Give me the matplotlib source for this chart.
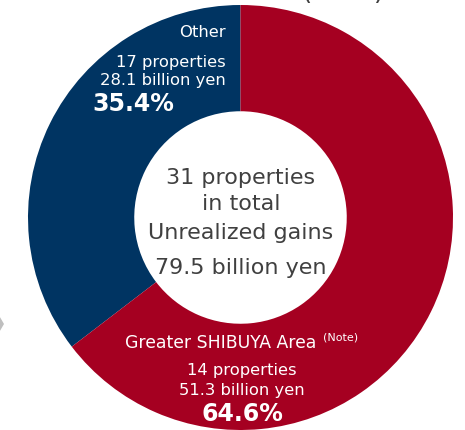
import matplotlib
matplotlib.use("Agg")
from matplotlib import pyplot as plt
from matplotlib.patches import Polygon

# data
labels = ['Other', 'Greater SHIBUYA Area']
properties = [17, 14]
gains = [28.1, 51.3]      # billion yen
shares = [35.4, 64.6]     # %
total_props = 31
total_gains = 79.5

colors = ['#003462', '#A50021']

W, H = 465, 431
fig = plt.figure(figsize=(W / 100, H / 100), dpi=100)
ax = fig.add_axes([0, 0, 1, 1])

# center / radius in pixel coords (y measured from bottom)
cx, cy = 240.5, H - 218.5
R = 212.5

ax.pie(shares, colors=colors, startangle=90, counterclock=True,
       center=(cx, cy), radius=R,
       wedgeprops=dict(width=R * 0.5, linewidth=0))

ax.set_xlim(0, W)
ax.set_ylim(0, H)
ax.set_aspect('equal')
ax.axis('off')

def py(y):
    # convert pixel-from-top to data y
    return H - y

white = 'white'
dark = '#404040'
small = 11.8
big = 17

# Other
ax.text(226, py(32), labels[0], color=white, fontsize=small, ha='right', va='center')
ax.text(226, py(62), f'{properties[0]} properties', color=white, fontsize=small, ha='right', va='center')
ax.text(226, py(81), f'{gains[0]} billion yen', color=white, fontsize=small, ha='right', va='center')
ax.text(92, py(104), f'{shares[0]}%', color=white, fontsize=big, fontweight='bold', ha='left', va='center')

# Greater SHIBUYA
ax.text(125, py(343), labels[1], color=white, fontsize=12.4, ha='left', va='center')
ax.text(323, py(338), '(Note)', color=white, fontsize=8, ha='left', va='center')
ax.text(242, py(371), f'{properties[1]} properties', color=white, fontsize=small, ha='center', va='center')
ax.text(242, py(391), f'{gains[1]} billion yen', color=white, fontsize=small, ha='center', va='center')
ax.text(242, py(414), f'{shares[1]}%', color=white, fontsize=big, fontweight='bold', ha='center', va='center')

# center text
fs_c = 16
ax.text(241, py(178), f'{total_props} properties', color=dark, fontsize=fs_c, ha='center', va='center')
ax.text(241, py(204), 'in total', color=dark, fontsize=fs_c, ha='center', va='center')
ax.text(241, py(233), 'Unrealized gains', color=dark, fontsize=fs_c, ha='center', va='center')
ax.text(241, py(268), f'{total_gains} billion yen', color=dark, fontsize=fs_c, ha='center', va='center')

# cut-off heading at top
ax.text(343, py(-1), '(Note)', color=dark, fontsize=19, ha='center', va='baseline')

# grey chevron at left edge
ax.add_patch(Polygon([(-3, py(313)), (4, py(325)), (-3, py(337))],
                     closed=True, facecolor='#BFBFBF', edgecolor='none'))

fig.savefig('out.png', dpi=100)
